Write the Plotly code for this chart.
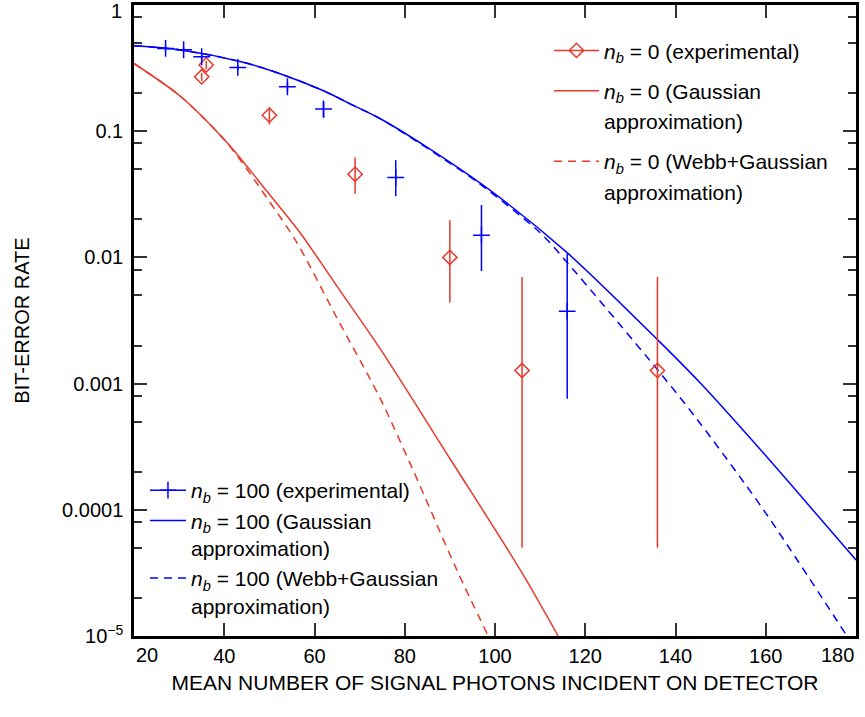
import plotly.graph_objects as go

# ---------------- data ----------------
red_exp_x = [35, 36, 50, 69, 90, 106, 136]
red_exp_y = [0.27, 0.335, 0.134, 0.0456, 0.0100, 0.00127, 0.00127]
red_exp_hi = [0.29, 0.36, 0.155, 0.062, 0.0197, 0.0070, 0.0070]
red_exp_lo = [0.25, 0.31, 0.113, 0.032, 0.0044, 5.0e-5, 5.0e-5]

blue_exp_x = [27, 31, 35, 43, 54, 62, 78, 97, 116]
blue_exp_y = [0.453, 0.442, 0.389, 0.32, 0.225, 0.15, 0.0429, 0.015, 0.00375]
blue_exp_hi = [0.47, 0.46, 0.41, 0.335, 0.24, 0.171, 0.059, 0.026, 0.0107]
blue_exp_lo = [0.435, 0.425, 0.37, 0.305, 0.21, 0.128, 0.0305, 0.0078, 7.6e-4]

red_gauss_x = [20, 30.2, 40.6, 49.4, 56.8, 65, 74.5, 90, 105.6, 114]
red_gauss_y = [0.344, 0.19, 0.0813, 0.0336, 0.0157, 0.0059, 0.0019, 2.55e-4, 3.34e-5, 1.0e-5]

red_webb_x = [20, 30.2, 40.6, 49.4, 56.1, 65, 74.5, 81.8, 91.6, 98.5]
red_webb_y = [0.344, 0.19, 0.081, 0.0298, 0.0131, 0.0033, 7.7e-4, 2.08e-4, 3.3e-5, 1.0e-5]

blue_gauss_x = [20, 30, 43.5, 51.6, 62, 68.6, 74.5, 85.6, 99.6, 116.1, 136, 145.5, 158.8, 180]
blue_gauss_y = [0.475, 0.442, 0.357, 0.292, 0.209, 0.16, 0.126, 0.072, 0.0326, 0.0108,
                0.00223, 0.00101, 3.0e-4, 4.0e-5]

blue_webb_x = [20, 30, 43.5, 51.6, 62, 68.6, 74.5, 85.6, 96.3, 110, 116, 136, 144.8, 159.5, 178]
blue_webb_y = [0.475, 0.442, 0.357, 0.292, 0.209, 0.16, 0.126, 0.071, 0.039, 0.0157, 0.0091,
               0.00129, 5.2e-4, 1.0e-4, 1.0e-5]

x_ticks = [20, 40, 60, 80, 100, 120, 140, 160, 180]
y_ticks = [1, 0.1, 0.01, 0.001, 0.0001, 0.00001]
y_ticktext = ["", "0.1", "0.01", "0.001", "0.0001", "10<sup>\u22125</sup>"]

NB = "<i>n</i><sub><i>b</i></sub>"
legend_names = {
    "r_exp": NB + " = 0 (experimental)",
    "r_gauss": NB + " = 0 (Gaussian",
    "r_webb": NB + " = 0 (Webb+Gaussian",
    "r_cont": "approximation)",
    "b_exp": NB + " = 100 (experimental)",
    "b_gauss": NB + " = 100 (Gaussian<br>approximation)",
    "b_webb": NB + " = 100 (Webb+Gaussian<br>approximation)",
}

RED = "#e8392b"
BLUE = "#0000ff"
FONT = "Liberation Sans, Arial, sans-serif"
DASH = "8px,6px"

fig = go.Figure()

# theory curves
fig.add_trace(go.Scatter(x=red_gauss_x, y=red_gauss_y, mode="lines",
                         line=dict(color=RED, width=1.5, shape="spline", smoothing=0.8),
                         name=legend_names["r_gauss"], legend="legend", legendgroup="r2",
                         legendrank=2))
fig.add_trace(go.Scatter(x=red_webb_x, y=red_webb_y, mode="lines",
                         line=dict(color=RED, width=1.5, dash=DASH, shape="spline",
                                   smoothing=0.8),
                         name=legend_names["r_webb"], legend="legend", legendgroup="r3",
                         legendrank=4))
fig.add_trace(go.Scatter(x=blue_gauss_x, y=blue_gauss_y, mode="lines",
                         line=dict(color=BLUE, width=1.5, shape="spline", smoothing=0.8),
                         name=legend_names["b_gauss"], legend="legend2", legendgroup="b2",
                         legendrank=2))
fig.add_trace(go.Scatter(x=blue_webb_x, y=blue_webb_y, mode="lines",
                         line=dict(color=BLUE, width=1.5, dash=DASH, shape="spline",
                                   smoothing=0.8),
                         name=legend_names["b_webb"], legend="legend2", legendgroup="b3",
                         legendrank=3))

# experimental points with error bars
fig.add_trace(go.Scatter(
    x=red_exp_x, y=red_exp_y, mode="markers", showlegend=False,
    marker=dict(symbol="diamond-open", size=11, color=RED, line=dict(width=1.5, color=RED)),
    error_y=dict(type="data", symmetric=False,
                 array=[h - v for h, v in zip(red_exp_hi, red_exp_y)],
                 arrayminus=[v - l for l, v in zip(red_exp_lo, red_exp_y)],
                 color=RED, thickness=1.5, width=0)))
fig.add_trace(go.Scatter(
    x=blue_exp_x, y=blue_exp_y, mode="markers", showlegend=False,
    marker=dict(symbol="cross-thin", size=12, color=BLUE, line=dict(width=1.5, color=BLUE)),
    error_y=dict(type="data", symmetric=False,
                 array=[h - v for h, v in zip(blue_exp_hi, blue_exp_y)],
                 arrayminus=[v - l for l, v in zip(blue_exp_lo, blue_exp_y)],
                 color=BLUE, thickness=1.5, width=0)))

# legend entries for experimental series (line through marker)
fig.add_trace(go.Scatter(x=[None], y=[None], mode="lines+markers",
                         line=dict(color=RED, width=1.5),
                         marker=dict(symbol="diamond-open", size=11, color=RED,
                                     line=dict(width=1.5, color=RED)),
                         name=legend_names["r_exp"], legend="legend", legendgroup="r1",
                         legendrank=1))
fig.add_trace(go.Scatter(x=[None], y=[None], mode="lines+markers",
                         line=dict(color=BLUE, width=1.5),
                         marker=dict(symbol="cross-thin", size=12, color=BLUE,
                                     line=dict(width=1.5, color=BLUE)),
                         name=legend_names["b_exp"], legend="legend2", legendgroup="b1",
                         legendrank=1))
# second text lines of the red legend entries (no symbol)
for grp, rank in (("r2", 3), ("r3", 5)):
    fig.add_trace(go.Scatter(x=[None], y=[None], mode="lines",
                             line=dict(color="rgba(0,0,0,0)", width=0),
                             name=legend_names["r_cont"], legend="legend", legendgroup=grp,
                             legendrank=rank, hoverinfo="skip"))

minor_y = []
for d in [1e-5, 1e-4, 1e-3, 1e-2, 1e-1]:
    minor_y += [2 * d, 5 * d, 8 * d]

axis_common = dict(showline=True, linecolor="black", linewidth=2.5, mirror="ticks",
                   ticks="inside", ticklen=13, tickwidth=1.8, tickcolor="#333",
                   showgrid=False, zeroline=False,
                   tickfont=dict(family=FONT, size=20, color="black"))

fig.update_layout(
    width=865, height=717,
    margin=dict(l=134, r=9, t=5, b=81, autoexpand=False),
    paper_bgcolor="white", plot_bgcolor="white",
    font=dict(family=FONT, size=20, color="black"),
    xaxis=dict(range=[20, 180], tickmode="array", tickvals=x_ticks,
               ticktext=["" if v in (20, 180) else str(v) for v in x_ticks],
               title=dict(text="MEAN NUMBER OF SIGNAL PHOTONS INCIDENT ON DETECTOR",
                          font=dict(family=FONT, size=21), standoff=10),
               **axis_common),
    yaxis=dict(type="log", range=[-5, 0], tickmode="array", tickvals=y_ticks,
               ticktext=y_ticktext, ticklabelstandoff=4,
               minor=dict(tickmode="array", tickvals=minor_y, ticklen=8, tickwidth=1.8,
                          tickcolor="#333", ticks="inside", showgrid=False),
               title=dict(text="BIT-ERROR RATE", font=dict(family=FONT, size=20), standoff=28),
               **axis_common),
    legend=dict(x=0.5748, y=0.960, xanchor="left", yanchor="top",
                bgcolor="rgba(0,0,0,0)", font=dict(family=FONT, size=21),
                valign="middle", tracegroupgap=10, traceorder="grouped", itemwidth=45),
    legend2=dict(x=0.0152, y=0.263, xanchor="left", yanchor="top",
                 bgcolor="rgba(0,0,0,0)", font=dict(family=FONT, size=21),
                 valign="top", tracegroupgap=0, traceorder="grouped", itemwidth=36),
    annotations=[
        dict(text="1", x=0, y=0, xref="paper", yref="y", xanchor="right", yanchor="middle",
             xshift=-10, yshift=-6, showarrow=False, font=dict(family=FONT, size=20)),
        dict(text="20", x=20, y=0, xref="x", yref="paper", xanchor="left", yanchor="top",
             yshift=-6, showarrow=False, font=dict(family=FONT, size=20)),
        dict(text="180", x=180, y=0, xref="x", yref="paper", xanchor="right", yanchor="top",
             yshift=-6, showarrow=False, font=dict(family=FONT, size=20)),
    ],
)

fig.write_html("out.html", config={"displayModeBar": False},
               post_script="document.body.style.margin='0px';")
